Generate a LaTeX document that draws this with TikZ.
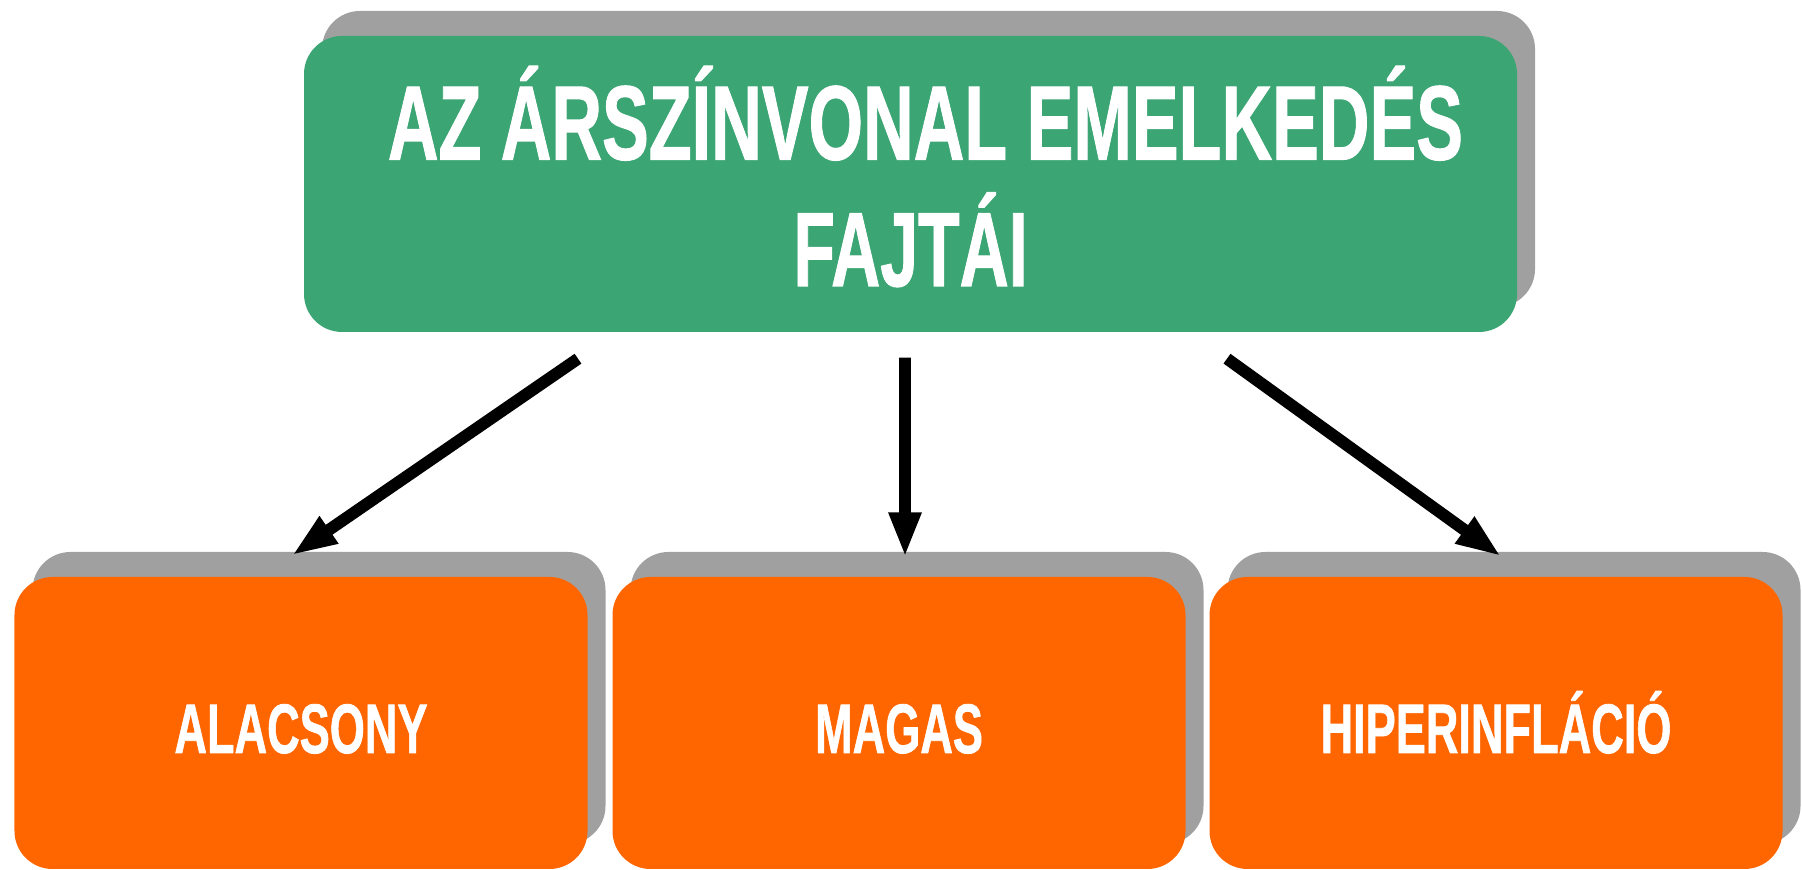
\documentclass[tikz,border=0pt]{standalone}
\usepackage{fontspec}
\usepackage{xcolor}
\usepackage{graphicx}
\usepackage{tikz}
\usetikzlibrary{arrows.meta,shadows}
\newfontfamily\boxfont[BoldFeatures={FakeBold=1.2}]{Liberation Sans}
\newcommand{\narrow}[2][0.645]{\scalebox{#1}[1]{#2}}
\definecolor{boxgreen}{RGB}{59,165,116}
\definecolor{boxorange}{RGB}{255,102,0}
\definecolor{shadowgray}{RGB}{160,160,160}
\tikzset{>={Triangle[length=4.5mm,width=3mm]}}
\tikzset{
  graybox/.style={rounded corners=0.38cm, inner sep=0pt, text=white,
    drop shadow={shadow xshift=0.18cm, shadow yshift=0.25cm, fill=shadowgray, opacity=1}},
  titlebox/.style={graybox, fill=boxgreen, minimum width=12.13cm, minimum height=2.96cm,
    align=center, font=\boxfont\bfseries\fontsize{30}{36}\selectfont},
  kindbox/.style={graybox, fill=boxorange, minimum width=5.73cm, minimum height=2.92cm,
    text height=0.6cm, text depth=0pt, font=\boxfont\bfseries\fontsize{19.9}{24}\selectfont},
  arr/.style={line width=3.4pt, ->}
}

\begin{document}
\begin{tikzpicture}
            \useasboundingbox (0,0) rectangle (18.02,8.70);

            % Draw the title box
            \node[titlebox] (kinds) at (9.105,6.86)
                {\hspace*{0.3cm}\narrow[0.665]{AZ ÁRSZÍNVONAL EMELKEDÉS}\\\narrow{FAJTÁI}\rule[-0.16cm]{0pt}{0.16cm}};

            % Draw the three kinds
            \node[kindbox] (low) at (3.01,1.47) {\narrow{ALACSONY}};
            \node[kindbox] (high) at (8.99,1.47) {\narrow{MAGAS}};
            \node[kindbox] (hyper) at (14.96,1.47) {\narrow{HIPERINFLÁCIÓ}};

            % Draw arrows
            \draw[arr] ([xshift=-3.325cm,yshift=-0.26cm]kinds.south) -- ([xshift=-0.09cm,yshift=0.21cm]low.north);
            \draw[arr] ([xshift=-0.055cm,yshift=-0.25cm]kinds.south) -- ([xshift=0.06cm,yshift=0.19cm]high.north);
            \draw[arr] ([xshift=3.165cm,yshift=-0.26cm]kinds.south) -- ([xshift=0.05cm,yshift=0.20cm]hyper.north);
          \end{tikzpicture}
\end{document}
